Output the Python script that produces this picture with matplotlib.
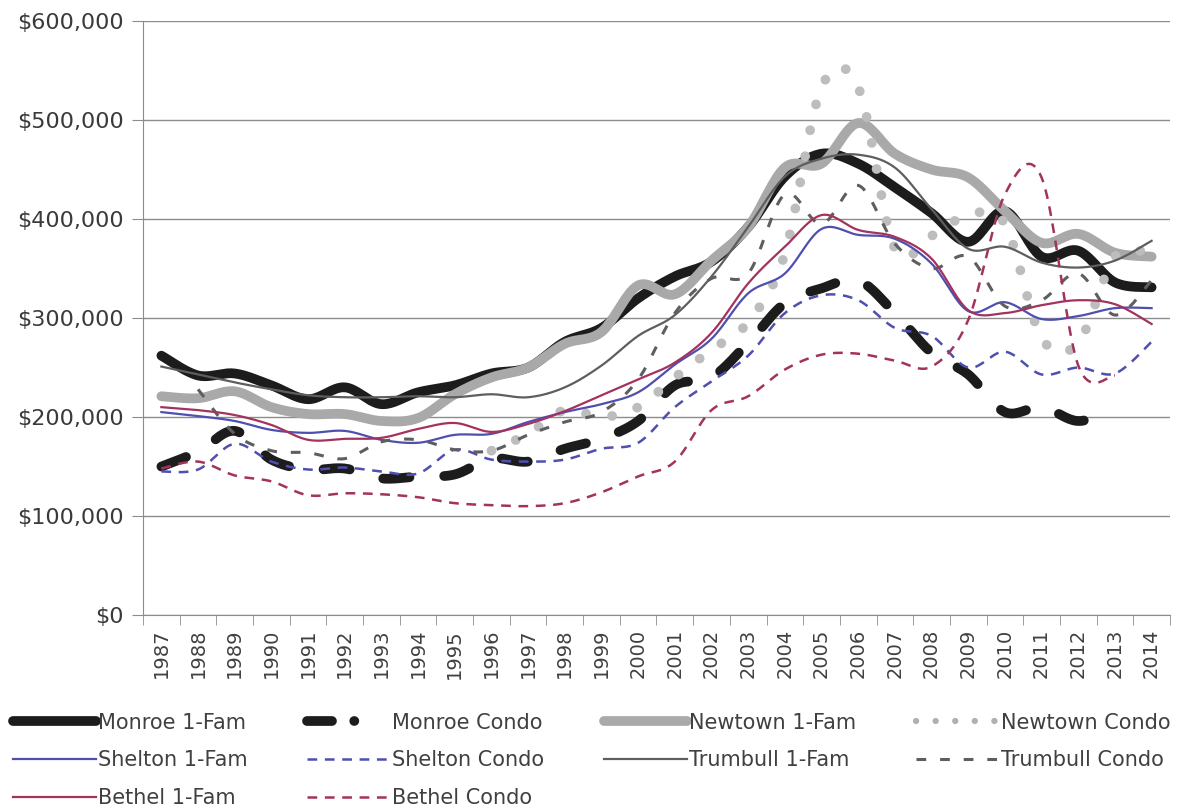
import numpy as np
import matplotlib
matplotlib.use("Agg")
import matplotlib.pyplot as plt
from matplotlib.lines import Line2D
from matplotlib.ticker import FuncFormatter

plt.rcParams['font.family'] = ['DejaVu Sans']
plt.rcParams['lines.scale_dashes'] = False

years = list(range(1987, 2015))

# values in dollars (thousands)
monroe_fam = [262, 242, 244, 232, 218, 230, 213, 225, 232, 244, 250, 276, 290, 320,
              342, 357, 392, 443, 466, 456, 432, 406, 377, 408, 362, 368, 336, 331]
monroe_condo = [150, 165, 186, 157, 147, 148, 138, 140, 142, 158, 155, 168, 178, 196,
                232, 240, 275, 315, 330, 338, 305, 265, 243, 205, 210, 196, 208, None]
newtown_fam = [221, 219, 226, 210, 203, 203, 196, 199, 223, 240, 250, 274, 286, 333,
               324, 358, 392, 452, 456, 497, 466, 450, 442, 408, 376, 385, 366, 362]
newtown_condo = [None, None, None, None, None, None, None, None, None, 166, 183, 207, 200, 210,
                 240, 268, 296, 365, 533, 533, 370, 383, 404, 395, 280, 275, 362, 365]
shelton_fam = [205, 201, 196, 187, 184, 186, 177, 174, 182, 183, 195, 205, 213, 225,
               253, 279, 325, 345, 390, 384, 380, 355, 307, 316, 299, 302, 310, 310]
shelton_condo = [145, 147, 173, 155, 147, 149, 145, 143, 167, 157, 155, 157, 168, 174,
                 210, 236, 262, 305, 323, 318, 290, 282, 250, 266, 243, 250, 244, 276]
trumbull_fam = [251, 243, 235, 228, 222, 220, 220, 221, 220, 223, 220, 230, 252, 282,
                303, 342, 392, 443, 461, 465, 452, 410, 370, 372, 356, 351, 358, 378]
trumbull_condo = [None, 228, 183, 166, 164, 158, 175, 177, 167, 166, 182, 195, 205, 238,
                  305, 340, 345, 425, 395, 434, 375, 350, 362, 312, 318, 345, 303, 338]
bethel_fam = [210, 207, 202, 192, 177, 178, 179, 188, 194, 185, 193, 206, 222, 238,
              255, 285, 335, 372, 404, 389, 382, 360, 308, 305, 313, 318, 314, 294]
bethel_condo = [148, 155, 141, 135, 121, 123, 122, 119, 113, 111, 110, 113, 124, 140,
                155, 207, 221, 248, 263, 264, 257, 251, 298, 425, 442, 252, 242, None]


def smooth(vals, steps=20):
    # Excel style smoothed line (Catmull-Rom as cubic Bezier)
    x = np.arange(len(vals), dtype=float)
    y = np.array([np.nan if v is None else v * 1000.0 for v in vals])
    ok = ~np.isnan(y)
    x, y = x[ok], y[ok]
    px = np.concatenate([[x[0]], x, [x[-1]]])
    py = np.concatenate([[y[0]], y, [y[-1]]])
    t = np.linspace(0, 1, steps, endpoint=False)
    ox, oy = [], []
    for i in range(1, len(px) - 2):
        for p, out in ((px, ox), (py, oy)):
            b0 = p[i]
            b1 = p[i] + (p[i + 1] - p[i - 1]) / 6
            b2 = p[i + 1] - (p[i + 2] - p[i]) / 6
            b3 = p[i + 1]
            out.extend((1 - t) ** 3 * b0 + 3 * (1 - t) ** 2 * t * b1 + 3 * (1 - t) * t ** 2 * b2 + t ** 3 * b3)
    ox.append(x[-1])
    oy.append(y[-1])
    return ox, oy


blue = '#4f4fb0'
maroon = '#a3325f'
dgray = '#5e5e5e'
black = '#1c1c1c'

series = [
    ("Monroe 1-Fam", monroe_fam, dict(color=black, lw=7, solid_capstyle='round')),
    ("Monroe Condo", monroe_condo, dict(color=black, lw=7, dashes=(19, 25), dash_capstyle='round')),
    ("Newtown 1-Fam", newtown_fam, dict(color='#a9a9a9', lw=7, solid_capstyle='round')),
    ("Newtown Condo", newtown_condo, dict(color='#bdbdbd', lw=7, dashes=(0.1, 19), dash_capstyle='round')),
    ("Shelton 1-Fam", shelton_fam, dict(color=blue, lw=1.6)),
    ("Shelton Condo", shelton_condo, dict(color=blue, lw=1.8, dashes=(7, 5.5))),
    ("Trumbull 1-Fam", trumbull_fam, dict(color=dgray, lw=1.6)),
    ("Trumbull Condo", trumbull_condo, dict(color=dgray, lw=2.2, dashes=(7, 10))),
    ("Bethel 1-Fam", bethel_fam, dict(color=maroon, lw=1.6)),
    ("Bethel Condo", bethel_condo, dict(color=maroon, lw=1.8, dashes=(7, 5.5))),
]

fig = plt.figure(figsize=(11.92, 8.10), dpi=100)
ax = fig.add_axes([0.12, 0.2407, 0.8615, 0.7333])

handles = {}
for name, vals, style in series:
    sx, sy = smooth(vals)
    line, = ax.plot(sx, sy, label=name, **style)
    handles[name] = line

ax.set_xlim(-0.5, len(years) - 0.5)
ax.set_ylim(0, 600000)
ax.set_yticks(np.arange(0, 600001, 100000))
ax.yaxis.set_major_formatter(FuncFormatter(lambda v, p: f"${v:,.0f}"))
ax.set_xticks(range(len(years)))
ax.set_xticklabels([str(y) for y in years], rotation=90)
ax.set_xticks(np.arange(-0.5, len(years), 1), minor=True)
ax.tick_params(axis='x', which='major', length=0, pad=10, labelsize=14, labelcolor='#404040')
ax.tick_params(axis='x', which='minor', length=7, color='#8c8c8c', direction='out')
ax.tick_params(axis='y', length=8, color='#8c8c8c', labelsize=16, labelcolor='#3a3a3a', pad=6)
ax.grid(axis='y', color='#8c8c8c', lw=1)
ax.set_axisbelow(True)
for s in ['top', 'right']:
    ax.spines[s].set_visible(False)
for s in ['left', 'bottom']:
    ax.spines[s].set_color('#8c8c8c')

# legend keys: proxies where the chart key differs from the line itself
proxies = {
    "Monroe Condo": Line2D([], [], color=black, lw=7, dashes=(18, 16, 0.1, 40), dash_capstyle='round'),
    "Newtown Condo": Line2D([], [], color='#b0b0b0', lw=4.5, dashes=(0.1, 14), dash_capstyle='round'),
}
order = ["Monroe 1-Fam", "Shelton 1-Fam", "Bethel 1-Fam",
         "Monroe Condo", "Shelton Condo", "Bethel Condo",
         "Newtown 1-Fam", "Trumbull 1-Fam",
         "Newtown Condo", "Trumbull Condo"]
hs = [proxies.get(n, handles.get(n)) for n in order]
leg = fig.legend(hs, order, ncol=4, loc='lower left', bbox_to_anchor=(0.0, -0.013),
                 frameon=False, fontsize=15, handlelength=4, handletextpad=0.1,
                 columnspacing=2.85, labelspacing=0.85, borderaxespad=0.2)
for t in leg.get_texts():
    t.set_color('#404040')

fig.savefig("out.png", dpi=100)
